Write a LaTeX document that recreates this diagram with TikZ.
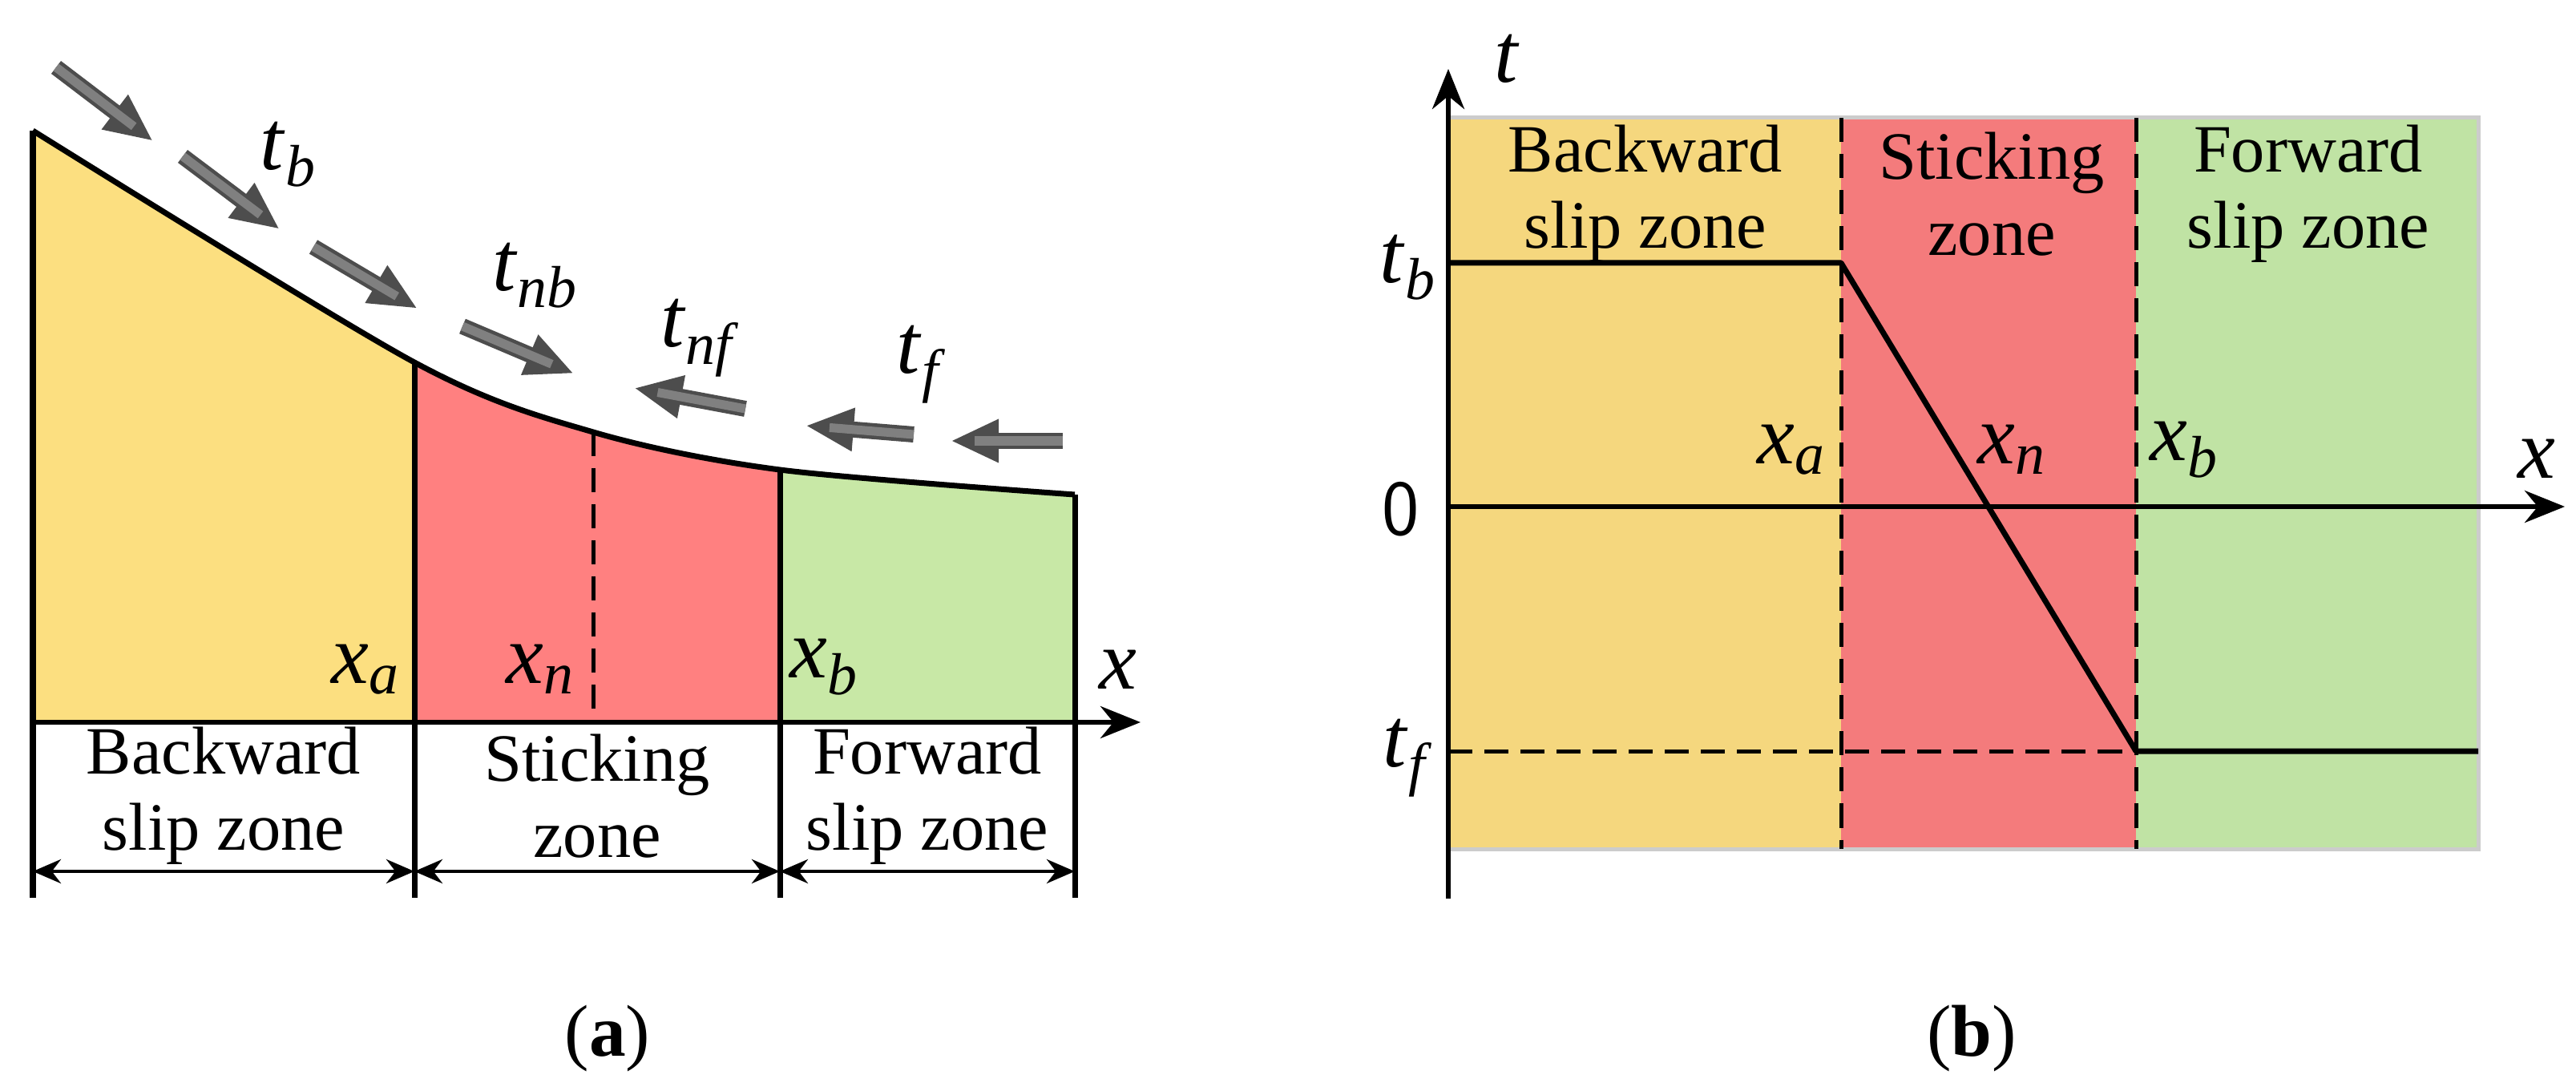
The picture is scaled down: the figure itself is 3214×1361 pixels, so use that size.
\documentclass[tikz,border=0pt]{standalone}
\usepackage{fontspec}
\setmainfont{Liberation Serif}
\usetikzlibrary{arrows.meta}
\definecolor{yA}{HTML}{FCDF80}\definecolor{rA}{HTML}{FF8080}\definecolor{gA}{HTML}{C8E8A6}
\definecolor{yB}{HTML}{F5D77E}\definecolor{rB}{HTML}{F47B7C}\definecolor{gB}{HTML}{C0E3A4}
\definecolor{arr}{HTML}{808080}
\newcommand{\ital}[2]{\textit{#1}\textsubscript{\textit{#2}}}
\begin{document}
\begin{tikzpicture}[x=0.01cm,y=-0.01cm,
  ln/.style={line width=0.07cm,black},
  dsh/.style={line width=0.05cm,dash pattern=on 0.3cm off 0.15cm},
  dim/.style={line width=0.045cm,{Stealth[length=0.35cm,width=0.3cm]}-{Stealth[length=0.35cm,width=0.3cm]}},
  ax/.style={line width=0.06cm,-{Stealth[length=0.5cm,width=0.4cm]}},
  fat/.style={line width=0.2cm,draw=arr!60!black,-{Triangle[length=0.6cm,width=0.5cm]}},
  fati/.style={line width=0.11cm,draw=arr,shorten >=0.3cm},
  lab/.style={font=\fontsize{30}{34}\selectfont},
  zt/.style={font=\fontsize{24}{27}\selectfont,align=center,inner sep=0pt}]
\useasboundingbox (0,0) rectangle (3214,1361);
% ---------- panel (a)
\begin{scope}
\clip plot[smooth] coordinates {(41,163) (517,452) (740,539) (973,586) (1341,617)} -- (1341,901) -- (41,901) -- cycle;
\fill[yA] (41,100) rectangle (517,901);
\fill[rA] (517,100) rectangle (973,901);
\fill[gA] (973,100) rectangle (1341,901);
\end{scope}
\draw[ln] plot[smooth] coordinates {(41,163) (517,452) (740,539) (973,586) (1341,617)};
\draw[ln] (41,163) -- (41,1120);
\draw[ln] (517,452) -- (517,1120);
\draw[ln] (973,586) -- (973,1120);
\draw[ln] (1341,617) -- (1341,1120);
\draw[dsh] (740,539) -- (740,901);
\coordinate (o1) at (41,901); \coordinate (xe) at (1423,901);
\draw[ax] (o1) -- (xe);
\coordinate (d0) at (41,1087); \coordinate (d1) at (517,1087); \coordinate (d2) at (973,1087); \coordinate (d3) at (1341,1087);
\draw[dim] (d0) -- (d1); \draw[dim] (d1) -- (d2); \draw[dim] (d2) -- (d3);
\node[zt] (za) at (279,993) {Backward\\slip zone};
\node[zt] (zb) at (745,993) {Sticking\\zone};
\node[zt] (zc) at (1157,993) {Forward\\slip zone};
\node[lab] (lxa) at (456,835) {\ital{x}{a}};
\node[lab] (lxn) at (674,835) {\ital{x}{n}};
\node[lab] (lxb) at (1028,832) {\ital{x}{b}};
\node[lab] (lx) at (1395,835) {\textit{x}};
\foreach \a/\b in {{70,84}/{191,176},{228,195}/{349,286},{391,308}/{521,385},{577,407}/{716,466},{930,510}/{791,484},{1140,542}/{1005,531},{1326,550}/{1186,550}}{
  \draw[fat] (\a) -- (\b); \draw[fati] (\a) -- (\b);}
\node[lab] (ltb) at (360,193) {\ital{t}{b}};
\node[lab] (ltnb) at (668,344) {\ital{t}{nb}};
\node[lab] (ltnf) at (874,422) {\ital{t}{nf}};
\node[lab] (ltf) at (1150,455) {\ital{t}{f}};
\node[font=\fontsize{26}{30}\selectfont] (ca1) at (758,1296) {(\textbf{a})};
% ---------- panel (b)
\fill[yB] (1807,147) rectangle (2297,1059);
\fill[rB] (2297,147) rectangle (2665,1059);
\fill[gB] (2665,147) rectangle (3092,1059);
\draw[gray!40,line width=0.05cm] (1807,147) rectangle (3092,1059);
\draw[dsh] (2297,147) -- (2297,1059);
\draw[dsh] (2665,147) -- (2665,1059);
\coordinate (tb0) at (1807,328); \coordinate (tb1) at (2297,328);
\coordinate (tf1) at (2665,937); \coordinate (tf2) at (3092,937); \coordinate (tf0) at (1807,937);
\draw[ln,line join=round] (tb0) -- (tb1) -- (tf1) -- (tf2);
\draw[dsh] (tf0) -- (tf1);
\coordinate (o2) at (1807,632); \coordinate (xe2) at (3200,632);
\coordinate (ty0) at (1807,1121); \coordinate (ty1) at (1807,86);
\draw[ax] (o2) -- (xe2);
\draw[ax] (ty0) -- (ty1);
\node[zt] (zba) at (2053,242) {Backward\\slip zone};
\node[zt] (zbb) at (2485,242) {Sticking\\zone};
\node[zt] (zbc) at (2880,242) {Forward\\slip zone};
\node[lab] (bt) at (1880,73) {\textit{t}};
\node[lab] (btb) at (1757,334) {\ital{t}{b}};
\node[lab] (btf) at (1757,946) {\ital{t}{f}};
\node[font=\fontsize{28}{32}\selectfont\sffamily] (b0) at (1748,635) {0};
\node[lab] (bxa) at (2235,561) {\ital{x}{a}};
\node[lab] (bxn) at (2510,561) {\ital{x}{n}};
\node[lab] (bxb) at (2725,561) {\ital{x}{b}};
\node[lab] (bx) at (3165,572) {\textit{x}};
\node[font=\fontsize{26}{30}\selectfont] (ca2) at (2460,1296) {(\textbf{b})};
\end{tikzpicture}
\end{document}
